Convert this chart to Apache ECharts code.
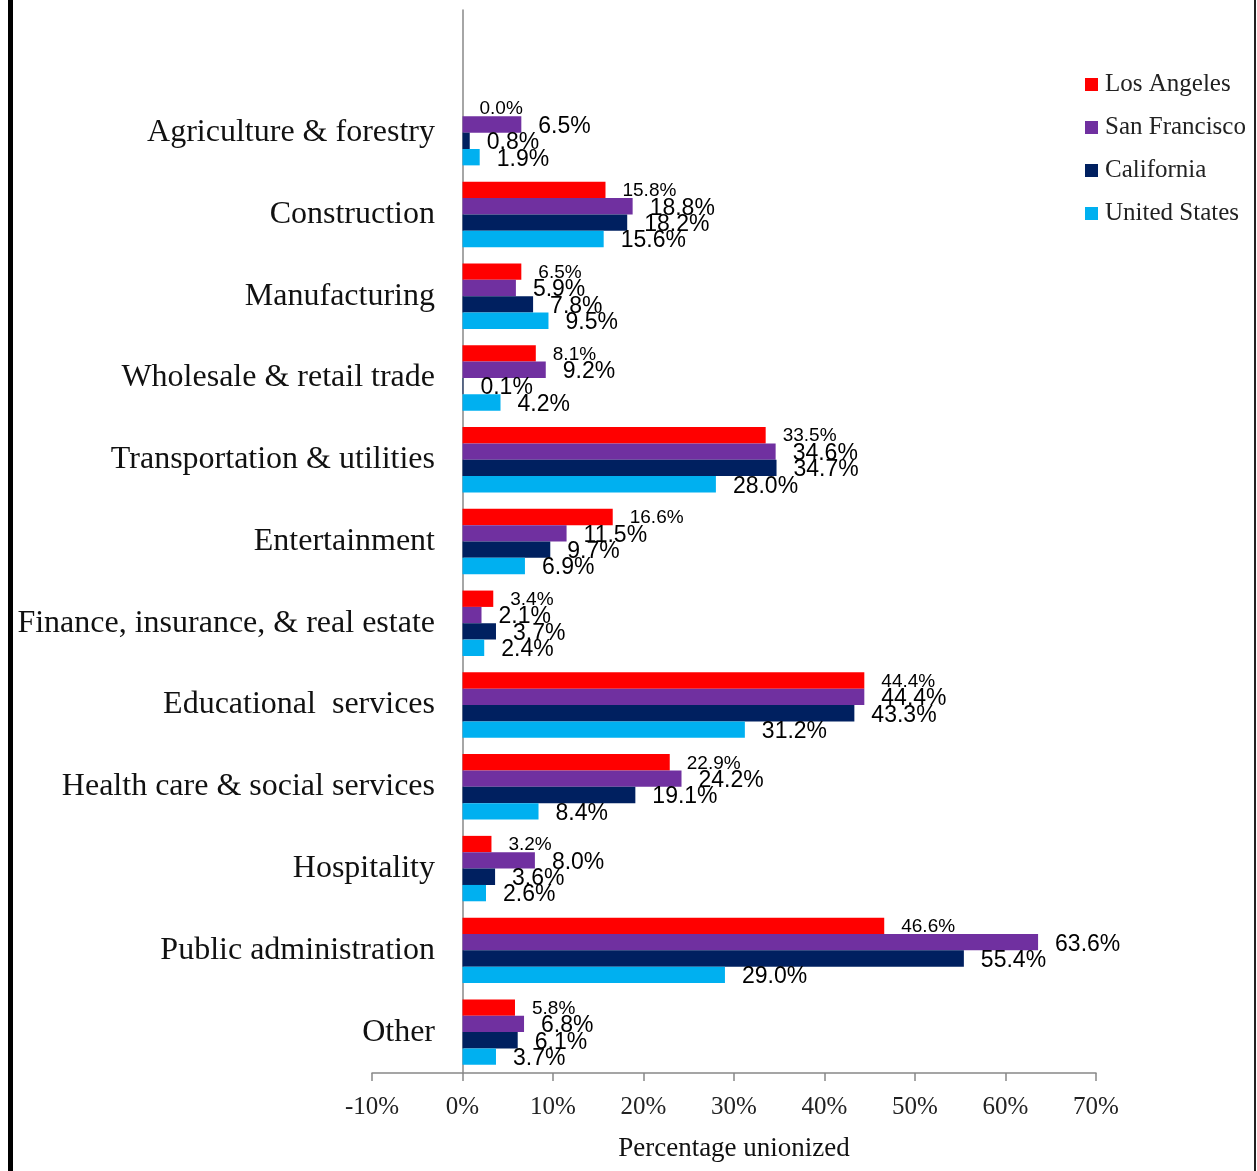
<!DOCTYPE html>
<html>
<head>
<meta charset="utf-8">
<script src="https://cdn.jsdelivr.net/npm/echarts@6/dist/echarts.min.js"></script>
<style>html,body{margin:0;padding:0;background:#fff;}#chart{width:1257px;height:1171px;}</style>
</head>
<body>
<div id="chart"></div>
<script>
const categories = ["Agriculture & forestry","Construction","Manufacturing","Wholesale & retail trade","Transportation & utilities","Entertainment","Finance, insurance, & real estate","Educational  services","Health care & social services","Hospitality","Public administration","Other"];
const seriesNames = ["Los Angeles","San Francisco","California","United States"];
const losAngeles   = [0.0,15.8,6.5,8.1,33.5,16.6,3.4,44.4,22.9,3.2,46.6,5.8];
const sanFrancisco = [6.5,18.8,5.9,9.2,34.6,11.5,2.1,44.4,24.2,8.0,63.6,6.8];
const california   = [0.8,18.2,7.8,0.1,34.7,9.7,3.7,43.3,19.1,3.6,55.4,6.1];
const unitedStates = [1.9,15.6,9.5,4.2,28.0,6.9,2.4,31.2,8.4,2.6,29.0,3.7];
const xTicks = [-10,0,10,20,30,40,50,60,70];

const colors = ["#FF0000","#7030A0","#002060","#00B0F0"];
const values = [losAngeles, sanFrancisco, california, unitedStates];

const chart = echarts.init(document.getElementById('chart'));
const serif = "Liberation Serif";
const series = values.map((v, i) => ({
  name: seriesNames[i],
  type: 'bar',
  data: [null].concat(v),
  barGap: '0%',
  barCategoryGap: '20%',
  itemStyle: { color: colors[i] },
  label: {
    show: true,
    position: 'right',
    distance: 17,
    offset: [0, i === 0 ? 1 : 2],
    fontFamily: 'Liberation Sans',
    fontSize: i === 0 ? 19 : 23,
    color: '#000',
    formatter: p => p.value == null ? '' : p.value.toFixed(1) + '%'
  }
}));

chart.setOption({
  animation: false,
  color: colors,
  grid: { left: 372, right: 161, top: 10, bottom: 98, containLabel: false },
  legend: {
    orient: 'vertical',
    left: 1080,
    top: 67,
    icon: 'rect',
    itemWidth: 13,
    itemHeight: 13,
    itemGap: 18,
    textStyle: { fontFamily: serif, fontSize: 25, color: '#222', lineHeight: 25, padding: [0, 0, 0, 2] },
    data: seriesNames
  },
  xAxis: {
    type: 'value',
    min: xTicks[0],
    max: xTicks[xTicks.length - 1],
    interval: 10,
    name: 'Percentage unionized',
    nameLocation: 'middle',
    nameGap: 62,
    nameTextStyle: { fontFamily: serif, fontSize: 27, color: '#111' },
    axisLine: { show: true, onZero: false, lineStyle: { color: '#888', width: 1.5 } },
    axisTick: { show: true, length: 8, lineStyle: { color: '#888', width: 1.5 } },
    axisLabel: { fontFamily: serif, fontSize: 25, color: '#222', margin: 22, formatter: v => v + '%' },
    splitLine: { show: false }
  },
  yAxis: {
    type: 'category',
    inverse: true,
    data: [''].concat(categories),
    axisLine: { show: true, onZero: true, lineStyle: { color: '#888', width: 1.5 } },
    axisTick: { show: false },
    axisLabel: { fontFamily: serif, fontSize: 32, color: '#111', margin: -63, padding: [4, 0, 0, 0] }
  },
  series: series,
  graphic: [
    { type: 'rect', left: 8, top: 0, z: 100, shape: { width: 5, height: 1171 }, style: { fill: '#000' } },
    { type: 'rect', left: 1254, top: 0, z: 100, shape: { width: 2, height: 1171 }, style: { fill: '#222' } }
  ]
});
</script>
</body>
</html>
